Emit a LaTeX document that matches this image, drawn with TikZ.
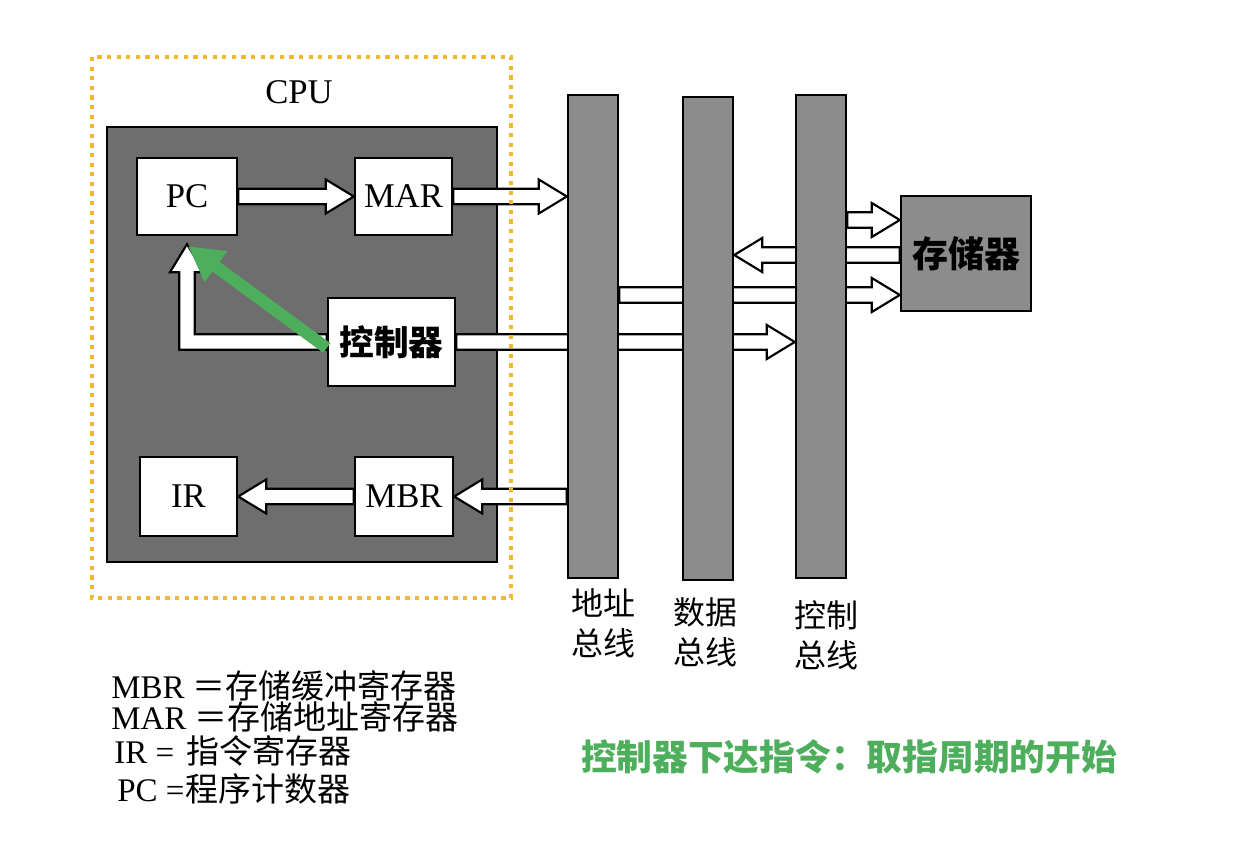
\documentclass[tikz,border=0pt]{standalone}
\usepackage{fontspec}
\setmainfont{Liberation Serif}
\newfontfamily\cjk{Noto Sans CJK SC}
\usetikzlibrary{calc,arrows.meta}
\pgfdeclarelayer{bg}\pgfdeclarelayer{arr}\pgfdeclarelayer{fg}
\pgfsetlayers{bg,arr,main,fg}
\definecolor{cpugray}{HTML}{6E6E6E}
\definecolor{busgray}{HTML}{8C8C8C}
\definecolor{dotorange}{HTML}{F4B731}
\definecolor{mygreen}{HTML}{4DAE5B}
\def\bAW{5.8pt}\def\bAH{12.75pt}\def\bAL{21pt}
\tikzset{
  blockarrow/.style={draw=black, fill=white, line width=1.6pt, line join=miter},
  reg/.style={draw=black, fill=white, line width=1.8pt, inner sep=0pt, font=\fontsize{26}{26}\selectfont},
  bus/.style={draw=black, fill=busgray, line width=1.8pt, inner sep=0pt, minimum width=37.5pt, minimum height=362.25pt},
  buslabel/.style={font=\cjk\fontsize{24}{30}\selectfont, align=center, inner sep=0pt},
  legend/.style={anchor=west, inner sep=0pt, font=\fontsize{24.75}{24.75}\selectfont},
}
% right-pointing block arrow: #1 start, #2 tip, #3 y reference
\newcommand\blkR[3]{\draw[blockarrow] let \p1=(#1), \p2=(#2), \p3=(#3) in
  (\x1,\y3+\bAW) -- (\x2-\bAL,\y3+\bAW) -- (\x2-\bAL,\y3+\bAH) -- (\x2,\y3)
  -- (\x2-\bAL,\y3-\bAH) -- (\x2-\bAL,\y3-\bAW) -- (\x1,\y3-\bAW) -- cycle;}
% left-pointing block arrow
\newcommand\blkL[3]{\draw[blockarrow] let \p1=(#1), \p2=(#2), \p3=(#3) in
  (\x1,\y3+\bAW) -- (\x2+\bAL,\y3+\bAW) -- (\x2+\bAL,\y3+\bAH) -- (\x2,\y3)
  -- (\x2+\bAL,\y3-\bAH) -- (\x2+\bAL,\y3-\bAW) -- (\x1,\y3-\bAW) -- cycle;}
\begin{document}
\begin{tikzpicture}[x=0.75pt,y=-0.75pt]
\useasboundingbox (0,0) rectangle (1242,862);
\begin{pgfonlayer}{bg}
  \fill[white] (0,0) rectangle (1242,862);
  \node[draw=black, fill=cpugray, line width=1.8pt, minimum width=292.5pt, minimum height=326.25pt, inner sep=0pt] (cpu) at (302,344.5) {};
\end{pgfonlayer}

\node[font=\fontsize{26}{26}\selectfont] (cpulabel) at (299,92) {CPU};

% registers
\node[reg, minimum width=75pt, minimum height=57.75pt] (PC) at (187,196.5) {PC};
\node[reg, minimum width=72.75pt, minimum height=57.75pt] (MAR) at (403.5,196.5) {MAR};
\node[reg, minimum width=95.25pt, minimum height=66pt, font=\cjk\bfseries\fontsize{26}{26}\selectfont] (ctrl) at (391.5,342) {控制器};
\node[reg, minimum width=72.75pt, minimum height=59.25pt] (IR) at (188.5,496.5) {IR};
\node[reg, minimum width=73.5pt, minimum height=59.25pt] (MBR) at (404,496.5) {MBR};

% buses
\node[bus] (abus) at (593,336.5) {};
\node[bus] (dbus) at (708,338.5) {};
\node[bus] (cbus) at (821,336.5) {};

% memory
\node[draw=black, fill=busgray, line width=1.8pt, minimum width=97.5pt, minimum height=86.25pt, inner sep=0pt,
      font=\cjk\bfseries\fontsize{27}{27}\selectfont] (mem) at (966,253.5) {存储器};

% y levels of the memory arrows
\coordinate (m1) at (901,220);
\coordinate (m2) at (901,255);
\coordinate (m3) at (901,295);

\begin{pgfonlayer}{arr}
  \blkR{PC.east}{MAR.west}{PC.east}
  \blkR{MAR.east}{abus.west}{MAR.east}
  \blkR{ctrl.east}{cbus.west}{ctrl.east}
  \blkR{cbus.east}{mem.west}{m1}
  \blkL{mem.west}{dbus.east}{m2}
  \blkR{abus.east}{mem.west}{m3}
  \blkL{abus.west}{MBR.east}{MBR.east}
  \blkL{MBR.west}{IR.east}{MBR.west}
  % controller -> PC (L-shaped)
  \draw[blockarrow] let \p1=(ctrl.west), \p2=($(PC.south)+(0,8)$) in
    (\x1,\y1+\bAW) -- (\x2+\bAW,\y1+\bAW) -- (\x2+\bAW,\y2-\bAL) -- (\x2+\bAH,\y2-\bAL)
    -- (\x2,\y2) -- (\x2-\bAH,\y2-\bAL) -- (\x2-\bAW,\y2-\bAL) -- (\x2-\bAW,\y1-\bAW)
    -- (\x1,\y1-\bAW) -- cycle;
\end{pgfonlayer}

% bus labels
\node[buslabel] (alab) at (603,623) {地址\\总线};
\node[buslabel] (dlab) at (705,632) {数据\\总线};
\node[buslabel] (clab) at (826,635) {控制\\总线};

% legend
\node[legend] (l1) at (111,686) {MBR {\cjk ＝存储缓冲寄存器}};
\node[legend] (l2) at (111,717) {MAR {\cjk ＝存储地址寄存器}};
\node[legend] (l3) at (114,751) {IR = \hspace{3pt}{\cjk 指令寄存器}};
\node[legend] (l4) at (117,789) {PC ={\cjk \hspace{1pt}程序计数器}};

% note
\node[font=\cjk\bfseries\fontsize{26.8}{26.8}\selectfont, text=mygreen, inner sep=0pt] (note) at (849,757) {控制器下达指令：取指周期的开始};

\begin{pgfonlayer}{fg}
  \draw[dotorange, line width=3pt, dash pattern=on 3.2pt off 4pt] (92,57) rectangle (511,598);
  \draw[mygreen, line width=9pt, -{Triangle[length=26pt,width=27pt]}] ($(ctrl.west)+(0,6)$) -- ($(PC.south)+(1,10)$);
\end{pgfonlayer}
\end{tikzpicture}
\end{document}
